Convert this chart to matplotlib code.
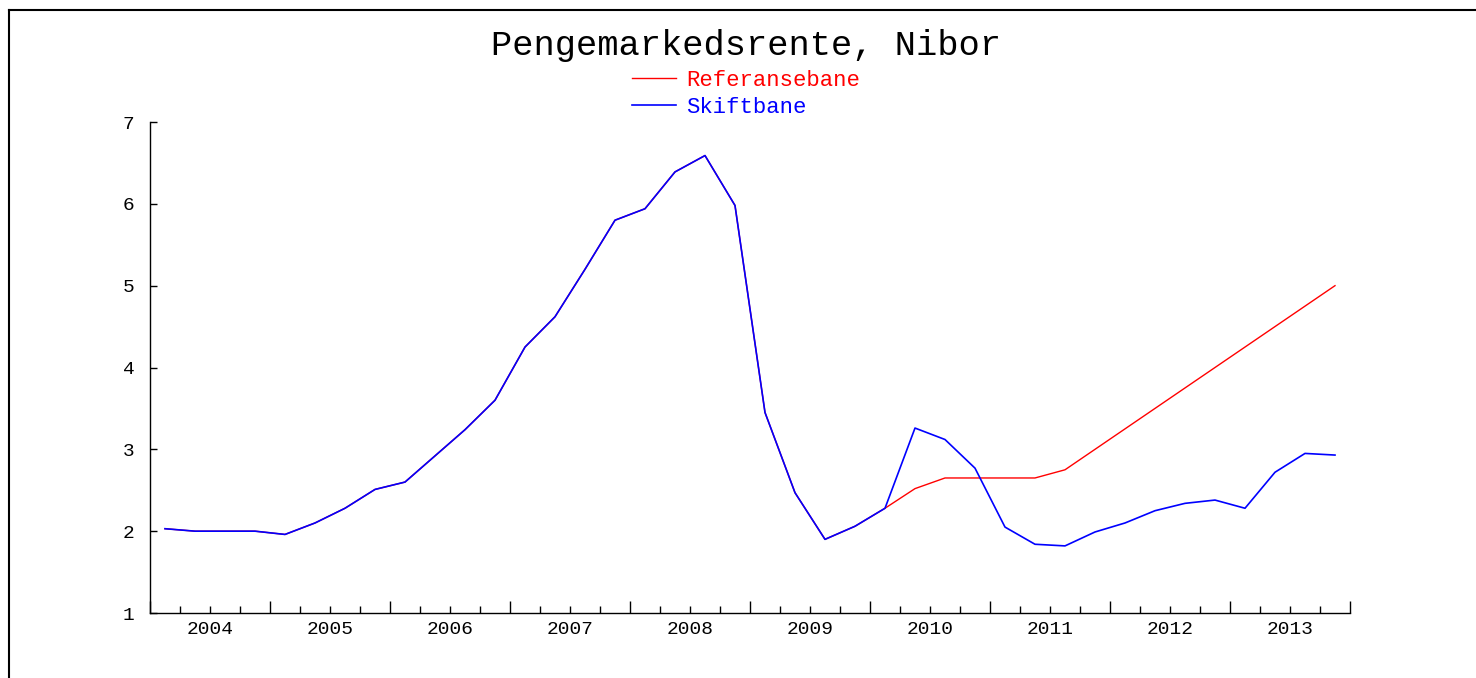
import matplotlib
matplotlib.use("Agg")
import matplotlib.pyplot as plt
from matplotlib.lines import Line2D
from matplotlib.ticker import MultipleLocator

# Quarterly data, 2004Q1 - 2013Q4
years = [str(y) for y in range(2004, 2014)]
skiftbane = [
    2.03, 2.00, 2.00, 2.00,   # 2004
    1.96, 2.10, 2.28, 2.51,   # 2005
    2.60, 2.92, 3.24, 3.60,   # 2006
    4.25, 4.62, 5.20, 5.80,   # 2007
    5.94, 6.39, 6.59, 5.98,   # 2008
    3.45, 2.47, 1.90, 2.06,   # 2009
    2.28, 3.26, 3.12, 2.77,   # 2010
    2.05, 1.84, 1.82, 1.99,   # 2011
    2.10, 2.25, 2.34, 2.38,   # 2012
    2.28, 2.72, 2.95, 2.93,   # 2013
]
referansebane = skiftbane[:25] + [
    2.52, 2.65, 2.65,         # 2010 Q2-Q4
    2.65, 2.65, 2.75, 3.00,   # 2011
    3.25, 3.50, 3.75, 4.00,   # 2012
    4.25, 4.50, 4.75, 5.00,   # 2013
]
x = [i + 0.5 for i in range(len(skiftbane))]

W, H = 1476, 678
fig = plt.figure(figsize=(W / 100, H / 100), dpi=100)
fig.patch.set_facecolor("white")
mono = "Liberation Mono"

# outer frame (top and left edges)
fig.add_artist(Line2D([9 / W, 9 / W], [0, 1 - 10 / H], color="black", lw=1.5,
                      transform=fig.transFigure))
fig.add_artist(Line2D([9 / W, 1], [1 - 10 / H, 1 - 10 / H], color="black", lw=1.5,
                      transform=fig.transFigure))

ax = fig.add_axes([150 / W, (H - 613) / H, 1200 / W, (613 - 122) / H])
l1, = ax.plot(x, referansebane, color="#ff0000", lw=1.0, label="Referansebane")
l2, = ax.plot(x, skiftbane, color="#0000ff", lw=1.2, label="Skiftbane")

ax.set_xlim(0, 40)
ax.set_ylim(1, 7)
for s in ["top", "right"]:
    ax.spines[s].set_visible(False)
for s in ["left", "bottom"]:
    ax.spines[s].set_linewidth(1.0)

ax.xaxis.set_major_locator(MultipleLocator(4))
ax.xaxis.set_minor_locator(MultipleLocator(1))
ax.tick_params(axis="x", which="major", direction="in", length=9, width=1.0,
               labelbottom=False)
ax.tick_params(axis="x", which="minor", direction="in", length=5, width=1.0)
for k, yr in enumerate(years):
    ax.text(4 * k + 2, -0.034, yr, transform=ax.get_xaxis_transform(),
            ha="center", va="center", fontsize=14, family=mono)

ax.set_yticks(range(1, 8))
ax.tick_params(axis="y", which="major", direction="in", length=5, width=1.0,
               pad=11, labelsize=14)
for lab in ax.get_yticklabels():
    lab.set_family(mono)

fig.text(746 / W, 1 - 45 / H, "Pengemarkedsrente, Nibor", ha="center", va="center",
         fontsize=25.5, family=mono, fontweight="light")

leg = fig.legend(handles=[l1, l2], loc="upper left",
                 bbox_to_anchor=(632 / W, 1 - 70 / H), frameon=False,
                 prop={"family": mono, "size": 16}, handlelength=2.0,
                 handletextpad=0.45, labelspacing=0.25, borderpad=0,
                 borderaxespad=0, labelcolor="linecolor")

fig.savefig("out.png", dpi=100, facecolor="white")
